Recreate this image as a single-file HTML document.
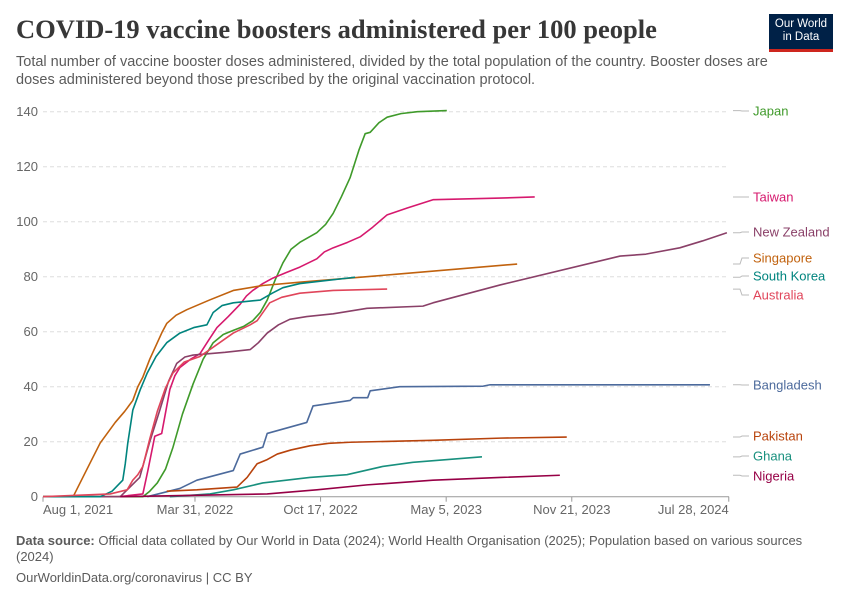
<!DOCTYPE html>
<html><head><meta charset="utf-8"><style>
body{margin:0;background:#fff;font-family:"Liberation Sans",sans-serif;}
#wrap{position:relative;width:850px;height:600px;overflow:hidden;}
.t{position:absolute;}
</style></head><body>
<div id="wrap">
<div class="t" style="left:16px;top:14px;font-family:'Liberation Serif',serif;font-size:26.5px;font-weight:bold;color:#373737;">COVID-19 vaccine boosters administered per 100 people</div>
<div class="t" style="left:16px;top:53px;width:790px;font-size:14.5px;line-height:18px;color:#5b5b5b;">Total number of vaccine booster doses administered, divided by the total population of the country. Booster doses are doses administered beyond those prescribed by the original vaccination protocol.</div>
<div class="t" style="left:769px;top:14px;width:64px;height:38px;background:#002147;border-bottom:3px solid #ce261e;color:#fff;font-size:11.5px;line-height:13px;text-align:center;padding-top:4px;box-sizing:border-box;">Our World<br>in Data</div>
<svg id="chart" width="850" height="600" style="position:absolute;left:0;top:0" font-family="Liberation Sans, sans-serif"></svg>
<div class="t" style="left:16px;top:533px;width:800px;font-size:13px;line-height:16px;color:#5b5b5b;"><b>Data source:</b> Official data collated by Our World in Data (2024); World Health Organisation (2025); Population based on various sources (2024)</div>
<div class="t" style="left:16px;top:570px;font-size:13px;color:#5b5b5b;">OurWorldinData.org/coronavirus | CC BY</div>
</div>
<script>
const yTicks=[0,20,40,60,80,100,120,140];
const xTickDays=[0,242,442,642,842,1092];
const xTickLabels=["Aug 1, 2021","Mar 31, 2022","Oct 17, 2022","May 5, 2023","Nov 21, 2023","Jul 28, 2024"];
const names=["Japan","Taiwan","New Zealand","Singapore","South Korea","Australia","Bangladesh","Pakistan","Ghana","Nigeria"];
const colors=["#3f9a2a","#d6196e","#8a4068","#c1620e","#00847e","#e0455a","#4c6a9c","#b8430c","#18907e","#970046"];
const labelY=[111,197,232,258,276,295,385,436,456,476];
const japan=[[0,0],[159,0],[170,2],[182,5],[195,10],[207,18],[222,30],[239,41],[255,50],[271,56],[287,59],[303,60.5],[320,62],[334,64],[346,67],[357,71.5],[370,79],[382,85],[395,90],[409,92.5],[436,96],[450,99],[462,103],[475,109],[489,116],[503,126],[513,132],[521,132.5],[535,136],[548,138],[570,139.3],[596,140],[643,140.4]];
const taiwan=[[0,0],[120,0],[159,1],[167,9.5],[178,22],[189,23],[202,39],[210,44],[218,47],[235,50],[250,52],[264,57],[277,61.5],[295,65.5],[314,70],[324,73],[334,75],[350,77.5],[366,79.5],[387,81.5],[409,83.5],[436,86.5],[448,89],[462,90.5],[485,92.5],[505,94.5],[525,98],[548,102.5],[580,105],[621,108],[728,108.6],[783,109]];
const nz=[[0,0],[123,0],[154,7],[170,20],[186,31.5],[200,42],[213,48.5],[226,50.8],[239,51.5],[290,52.5],[330,53.5],[343,56],[357,59.5],[375,62.5],[393,64.5],[420,65.5],[462,66.5],[516,68.5],[605,69.3],[621,70.5],[728,77],[919,87.5],[960,88.2],[1014,90.5],[1050,93],[1089,96]];
const singapore=[[0,0],[48,0],[70,10],[91,19.5],[115,27],[130,31],[143,35],[151,40],[159,43.5],[170,50],[182,56],[190,60],[197,63],[212,66],[229,68],[265,71.5],[303,75],[350,76.8],[409,78],[568,81],[755,84.6]];
const korea=[[0,0],[91,0],[110,2],[127,6],[131,12],[135,19.5],[143,31.5],[155,39],[166,45],[180,51],[197,56],[218,59.5],[240,61.5],[261,62.5],[271,67],[285,69.5],[303,70.5],[346,71.5],[365,74],[382,76],[409,77.5],[497,79.8]];
const australia=[[0,0],[107,1],[134,2.5],[143,6],[151,8],[159,11],[170,21],[182,31],[195,39.5],[207,45],[225,49],[250,51],[275,55],[303,59.5],[330,62.5],[341,64],[361,70.5],[380,72.5],[409,74],[462,75],[548,75.5]];
const bangladesh=[[166,0],[218,3],[245,6],[303,9.5],[314,15.5],[350,18],[357,23],[420,27],[430,33],[489,35],[494,36],[517,36],[521,38.5],[568,40],[701,40.2],[712,40.7],[1062,40.7]];
const pakistan=[[197,2],[245,2.5],[309,3.5],[325,7],[341,12],[357,13.5],[373,15.5],[395,17],[425,18.5],[455,19.4],[489,19.8],[621,20.5],[728,21.3],[834,21.7]];
const ghana=[[202,0],[266,1],[303,2.5],[350,5],[425,7],[484,8],[541,11],[589,12.5],[699,14.5]];
const nigeria=[[123,0],[357,1],[436,2.5],[516,4.3],[621,6],[728,7],[823,7.8]];
const series=[japan,taiwan,nz,singapore,korea,australia,bangladesh,pakistan,ghana,nigeria];
const X0=43,PXD=0.628,Y0=496.7,PXV=2.75;
const xs=d=>X0+d*PXD, ys=v=>Y0-v*PXV;
const svg=document.getElementById('chart'),NS="http://www.w3.org/2000/svg";
function mk(t,a){const e=document.createElementNS(NS,t);for(const k in a)e.setAttribute(k,a[k]);svg.appendChild(e);return e;}
yTicks.forEach(v=>{
 if(v>0){const g=mk('line',{x1:X0,x2:729,y1:ys(v),y2:ys(v),stroke:'#ddd','stroke-dasharray':'4,3'});
 
 }
 const t=mk('text',{x:38,y:ys(v)+4.5,'text-anchor':'end','font-size':13,fill:'#666'});t.textContent=v;
 
 
});
const ax=mk('line',{x1:X0,x2:729,y1:Y0,y2:Y0,stroke:'#999'});


xTickDays.forEach((d,i)=>{
 const tk=mk('line',{x1:xs(d),x2:xs(d),y1:Y0,y2:Y0+5,stroke:'#999'});
 
 
 const anc=i==0?'start':(i==xTickDays.length-1?'end':'middle');
 const t=mk('text',{x:xs(d),y:514,'text-anchor':anc,'font-size':13,fill:'#666'});t.textContent=xTickLabels[i];
 
 
});
series.forEach((s,i)=>{
 const p=mk('polyline',{points:s.map(q=>xs(q[0])+','+ys(q[1])).join(' '),fill:'none',stroke:colors[i],'stroke-width':1.6,'stroke-linejoin':'round'});
 
 
 const last=s[s.length-1];
 const c=mk('polyline',{points:`733,${ys(last[1])} 740,${ys(last[1])} 742,${labelY[i]} 749,${labelY[i]}`,fill:'none',stroke:'#bbb','stroke-width':1});
 
 
 const t=mk('text',{x:753,y:labelY[i]+4.5,'font-size':13,fill:colors[i]});t.textContent=names[i];
 
 
});
</script>
</body></html>
